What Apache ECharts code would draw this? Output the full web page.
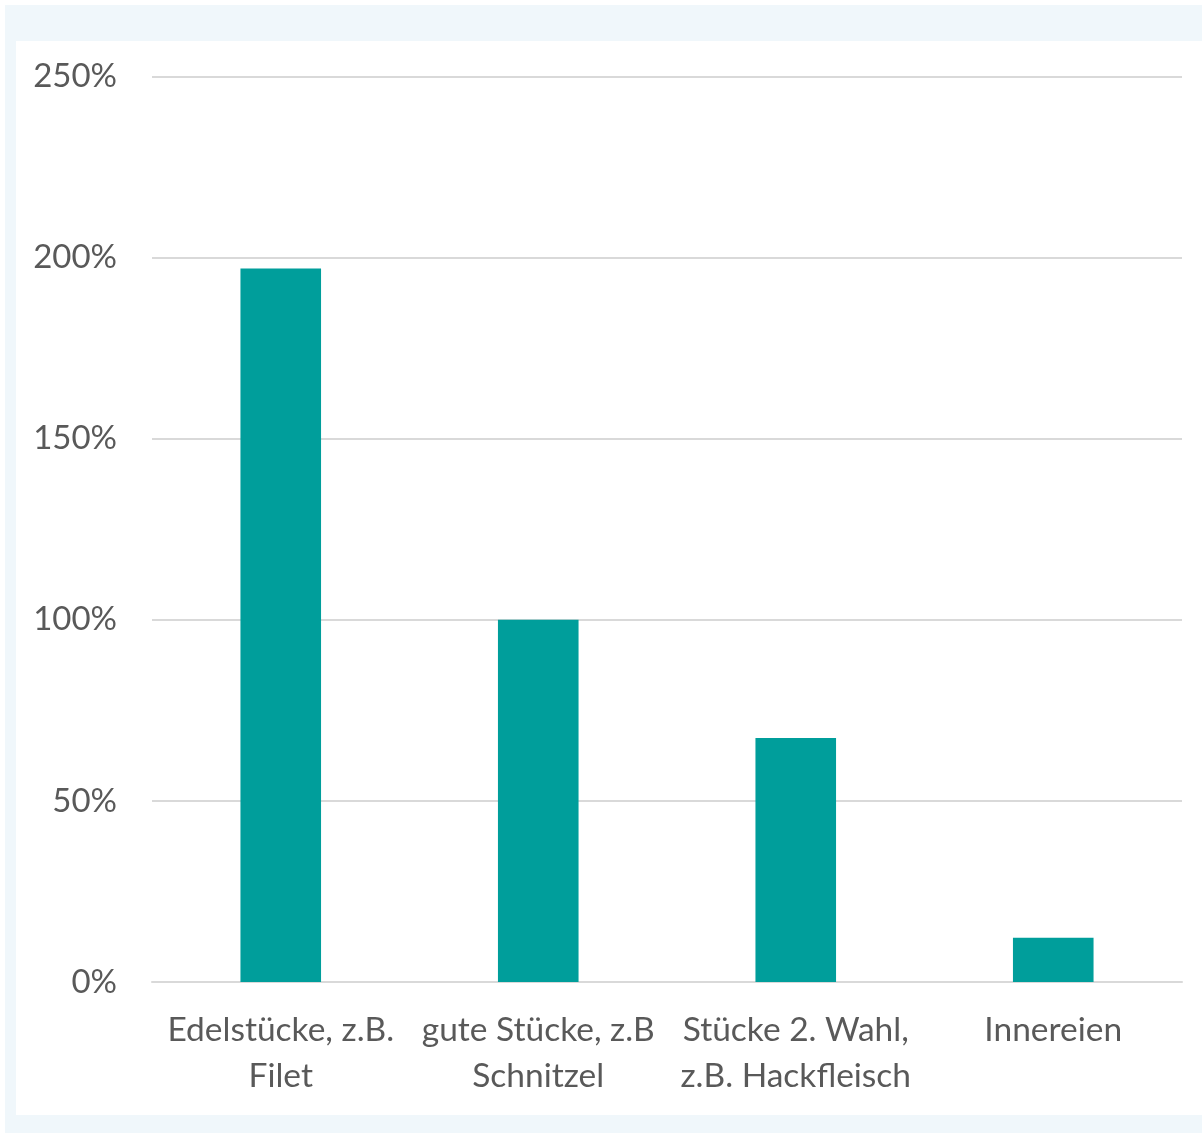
<!DOCTYPE html>
<html>
<head>
<meta charset="utf-8">
<script src="https://cdn.jsdelivr.net/npm/echarts@6/dist/echarts.min.js"></script>
<style>
html,body{margin:0;padding:0;background:#ffffff;}
#c{width:1202px;height:1134px;}
</style>
</head>
<body>
<div id="c"></div>
<script>
const categories = ["Edelstücke, z.B.\nFilet", "gute Stücke, z.B\nSchnitzel", "Stücke 2. Wahl,\nz.B. Hackfleisch", "Innereien"];
const values = [197, 100, 67.4, 12.2];
const yTicks = [0, 50, 100, 150, 200, 250];

const chart = echarts.init(document.getElementById('c'), null, {renderer: 'canvas'});
const FONT = 'Lato';
chart.setOption({
  backgroundColor: '#ffffff',
  animation: false,
  graphic: [
    {type: 'rect', z: -10, silent: true, shape: {x: 5, y: 5, width: 1197, height: 1128}, style: {fill: '#f0f7fb'}},
    {type: 'rect', z: -9, silent: true, shape: {x: 16, y: 41, width: 1186, height: 1074}, style: {fill: '#ffffff'}}
  ],
  grid: {left: 152, right: 20, top: 76.5, bottom: 1134 - 982, containLabel: false},
  xAxis: {
    type: 'category',
    data: categories,
    axisLine: {show: true, lineStyle: {color: '#d9d9d9', width: 2}},
    axisTick: {show: false},
    axisLabel: {color: '#595959', fontFamily: FONT, fontSize: 33.5, lineHeight: 46, margin: 25, interval: 0}
  },
  yAxis: {
    type: 'value',
    min: yTicks[0],
    max: yTicks[yTicks.length - 1],
    interval: 50,
    axisLine: {show: false},
    axisTick: {show: false},
    splitLine: {lineStyle: {color: '#d9d9d9', width: 2}},
    axisLabel: {color: '#595959', fontFamily: FONT, fontSize: 33, margin: 35, formatter: v => v + '%'}
  },
  series: [{
    type: 'bar',
    data: values,
    barWidth: '31.3%',
    itemStyle: {color: '#009e9b'}
  }]
});
</script>
</body>
</html>
